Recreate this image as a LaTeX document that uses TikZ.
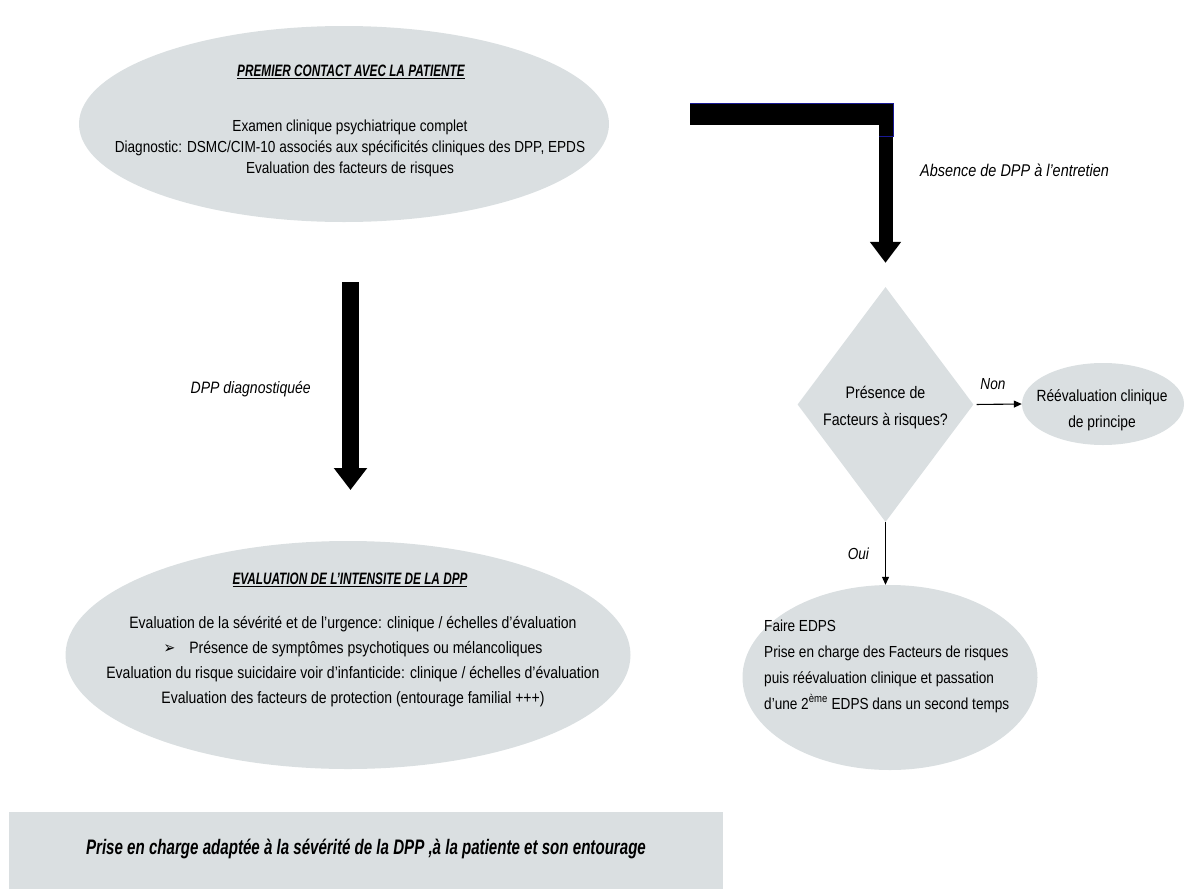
\documentclass[tikz,border=0pt]{standalone}
\usepackage{graphicx}
\usepackage{fontspec}
\setmainfont{Liberation Sans}[FakeStretch=0.85]
\newfontfamily\dejavu{DejaVu Sans}[FakeStretch=0.85]
\usetikzlibrary{shapes.geometric,arrows.meta}
\definecolor{boxgray}{RGB}{218,223,225}
\definecolor{navyline}{RGB}{25,25,150}
\newcommand\squeezed[2]{\scalebox{#1}[1]{#2}}
\begin{document}
\begin{tikzpicture}[x=1pt,y=-1pt,
  blob/.style={ellipse, fill=boxgray, draw=none, inner sep=0pt},
  bodytxt/.style={align=center, inner sep=0pt, font=\fontsize{16.5}{25}\selectfont},
  headtxt/.style={inner sep=0pt, font=\fontsize{16.5}{18}\selectfont\bfseries\itshape},
  lbl/.style={inner sep=0pt, font=\fontsize{16.5}{18}\selectfont\itshape},
  bigarrow/.style={line width=17pt, -{Triangle[width=32pt,length=22pt]}},
  thinarrow/.style={line width=1.1pt, -{Triangle[width=7pt,length=8pt]}}]
\useasboundingbox (0,0) rectangle (1191,889);

% top ellipse
\node[blob, minimum width=530pt, minimum height=196pt] (top) at (344,124) {};
\node[headtxt] (toph) at (351,72) {\squeezed{0.84}{\underline{PREMIER CONTACT AVEC LA PATIENTE}}};
\node[bodytxt, font=\fontsize{16}{21}\selectfont] (topt) at (350,148) {Examen clinique psychiatrique complet\\Diagnostic: DSMC/CIM-10 associés aux spécificités cliniques des DPP, EPDS\\Evaluation des facteurs de risques};

% bottom ellipse
\node[blob, minimum width=565pt, minimum height=228pt] (bot) at (348,655) {};
\node[headtxt] (both) at (350,580) {\squeezed{0.84}{\underline{EVALUATION DE L'INTENSITE DE LA DPP}}};
\node[bodytxt] (bott) at (353,662) {Evaluation de la sévérité et de l'urgence: clinique / échelles d'évaluation\\{\dejavu ➢}\hspace{14pt}Présence de symptômes psychotiques ou mélancoliques\\Evaluation du risque suicidaire voir d'infanticide: clinique / échelles d'évaluation\\Evaluation des facteurs de protection (entourage familial +++)};

% left arrow
\coordinate (a1s) at (350.5,282);
\coordinate (a1e) at (350.5,490);
\draw[bigarrow] (a1s) -- (a1e);
\node[lbl, anchor=east] (dpplbl) at (311,389) {DPP diagnostiquée};

% diamond
\node[diamond, fill=boxgray, draw=none, inner sep=0pt, minimum width=176pt, minimum height=235pt] (dia) at (885.5,404.5) {};
\node[bodytxt, font=\fontsize{16.7}{27}\selectfont] (diat) at (885.5,408) {Présence de\\Facteurs à risques?};

% L arrow
\coordinate (lstart) at (690,114);
\coordinate (lend) at (893,114);
\coordinate (lcorner) at (885.5,103);
\draw[line width=22pt] (lstart) -- (lend);
\draw[line width=14pt, -{Triangle[width=30pt,length=21pt]}, shorten >=24pt] (lcorner) -- (dia.north);
\draw[navyline, line width=0.8pt] (690,103) -- (893,103) -- (893,136) -- (879,136);
\node[lbl, font=\fontsize{17}{19}\selectfont\itshape, anchor=west] (abslbl) at (920,170) {Absence de DPP à l'entretien};

% reevaluation
\node[blob, minimum width=162pt, minimum height=82pt] (reev) at (1103,404) {};
\node[bodytxt, font=\fontsize{16.2}{26}\selectfont] (reevt) at (1102,410) {Réévaluation clinique\\de principe};
\draw[thinarrow, shorten <=3pt] (dia.east) -- (reev.west) node[lbl, font=\fontsize{16}{18}\selectfont\itshape, pos=0.4, above=14pt] {Non};

% faire EDPS
\node[blob, minimum width=295pt, minimum height=185pt] (faire) at (890,677.5) {};
\node[bodytxt, align=left, anchor=west, font=\fontsize{16}{26}\selectfont] (fairet) at (764,666) {Faire EDPS\\Prise en charge des Facteurs de risques\\puis réévaluation clinique et passation\\d'une 2\textsuperscript{ème} EDPS dans un second temps};
\draw[thinarrow] (dia.south) -- (dia.south |- faire.north) node[lbl, font=\fontsize{16}{18}\selectfont\itshape, midway, left=16pt] {Oui};

% bottom rectangle
\node[rectangle, fill=boxgray, draw=none, inner sep=0pt, minimum width=714pt, minimum height=77pt] (final) at (366,850.5) {};
\node[headtxt, font=\fontsize{21}{23}\selectfont\bfseries\itshape] (finalt) at (366,849) {\squeezed{0.846}{Prise en charge adaptée à la sévérité de la DPP ,à la patiente et son entourage}};
\end{tikzpicture}
\end{document}
